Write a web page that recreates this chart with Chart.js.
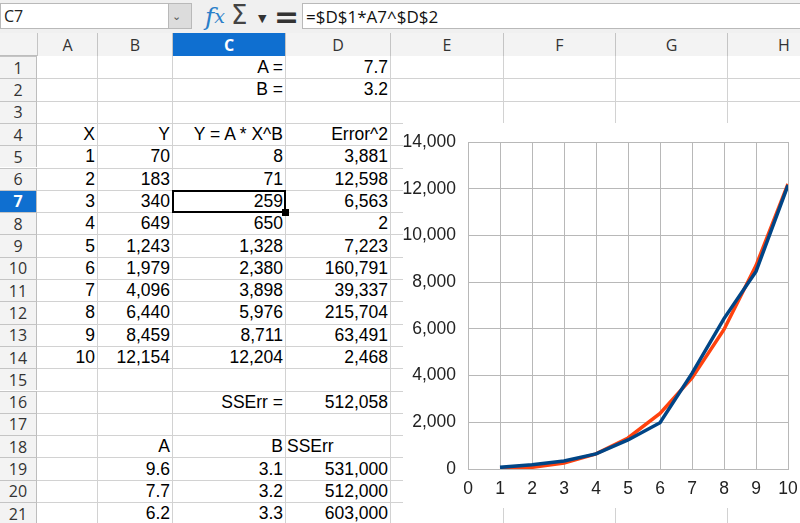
<!DOCTYPE html>
<html><head><meta charset="utf-8">
<script src="https://cdn.jsdelivr.net/npm/chart.js@4/dist/chart.umd.min.js"></script>
<style>
html,body{margin:0;padding:0;width:800px;height:523px;overflow:hidden;background:#fff;font-family:"Liberation Sans",Arial,sans-serif;}
#sheet{position:absolute;left:0;top:0;width:800px;height:523px;}
.abs{position:absolute;box-sizing:border-box;}
.cell{position:absolute;box-sizing:border-box;font-size:17.5px;color:#000;display:flex;align-items:center;white-space:nowrap;padding:0 2px;}
.hdr{position:absolute;box-sizing:border-box;font-family:"Open Sans","DejaVu Sans",sans-serif;font-size:16px;color:#333;display:flex;align-items:center;justify-content:center;background:#f3f3f3;}
#chartwrap{position:absolute;left:403px;top:123px;width:397px;height:385px;background:#fff;}
</style></head>
<body>
<div id="sheet"></div>
<div id="chartwrap"><canvas id="c" width="397" height="385"></canvas></div>
<script>
// ---- data ----
const xValues = [1,2,3,4,5,6,7,8,9,10];
const yValues = [70,183,340,649,1243,1979,4096,6440,8459,12154];
const fitValues = [8,71,259,650,1328,2380,3898,5976,8711,12204];
const errSq = [3881,12598,6563,2,7223,160791,39337,215704,63491,2468];
const paramA = 7.7, paramB = 3.2, ssErr = 512058;
const tableA = [9.6,7.7,6.2];
const tableB = [3.1,3.2,3.3];
const tableSS = [531000,512000,603000];
const xTicks = [0,1,2,3,4,5,6,7,8,9,10];
const yTicks = [0,2000,4000,6000,8000,10000,12000,14000];

// ---- spreadsheet ----
const colNames = ['A','B','C','D','E','F','G','H'];
const colEdges = [37,97,172,285,390,503,615,727,840];
const rowTop0 = 56, rowH = 22.3, nRows = 21, hdrTop = 33;
const sheet = document.getElementById('sheet');
function el(cls, css, html){const d=document.createElement('div');d.className=cls;Object.assign(d.style,css);if(html!==undefined)d.innerHTML=html;sheet.appendChild(d);return d;}
const fmt = v => v.toLocaleString('en-US');
const fmt1 = v => v.toFixed(1);

// toolbar
el('abs',{left:'0px',top:'0px',width:'800px',height:'33px',background:'#f0f0f0'});
el('abs',{left:'0px',top:'3px',width:'192px',height:'26px',background:'#fff',border:'1px solid #b9b9b9'});
el('cell',{left:'2px',top:'3px',height:'26px',fontSize:'16px',fontFamily:'"Open Sans",sans-serif',color:'#222'},'C7');
el('abs',{left:'168px',top:'4px',width:'23px',height:'24px',background:'#dcdcdc',borderLeft:'1px solid #b9b9b9'});
el('cell',{left:'170px',top:'4px',height:'24px',fontSize:'11px',color:'#555',fontFamily:'"DejaVu Sans",sans-serif'},'&#8964;');
el('cell',{left:'203px',top:'0px',height:'32px',fontSize:'25px',color:'#2a7fc9',fontStyle:'italic',fontFamily:'"DejaVu Serif",serif'},'<i>f</i><span style="font-size:19px">x</span>');
el('cell',{left:'229px',top:'0px',height:'30px',fontSize:'26px',color:'#444',fontFamily:'"DejaVu Sans",sans-serif'},'&Sigma;');
el('cell',{left:'256px',top:'3px',height:'30px',fontSize:'11px',color:'#333',fontFamily:'"DejaVu Sans",sans-serif'},'&#9660;');
el('cell',{left:'272px',top:'0px',height:'32px',fontSize:'30px',color:'#333',fontWeight:'bold',fontFamily:'"DejaVu Sans",sans-serif'},'=');
el('abs',{left:'302px',top:'3px',width:'500px',height:'26px',background:'#fff',border:'1px solid #b9b9b9'});
el('cell',{left:'304px',top:'3px',height:'26px',fontSize:'17px',fontFamily:'"Open Sans",sans-serif',color:'#111'},'=$D$1*A7^$D$2');

// column header
el('abs',{left:'0px',top:hdrTop+'px',width:'800px',height:(rowTop0-hdrTop)+'px',background:'#f3f3f3',borderBottom:'1px solid #bdbdbd'});
for(let i=0;i<colNames.length;i++){
  const l=colEdges[i], w=colEdges[i+1]-l, sel=colNames[i]==='C';
  el('hdr',{left:l+'px',top:hdrTop+'px',width:w+'px',height:(rowTop0-hdrTop)+'px',borderLeft:'1px solid #c4c4c4',background:sel?'#0f6fd0':'#f3f3f3',color:sel?'#fff':'#333',fontWeight:sel?'bold':'normal'},colNames[i]);
}
// row headers + grid
for(let r=1;r<=nRows;r++){
  const t=rowTop0+(r-1)*rowH, sel=r===7;
  el('hdr',{left:'0px',top:t+'px',width:'37px',height:rowH+'px',borderTop:'1px solid #c4c4c4',borderRight:'1px solid #bdbdbd',background:sel?'#0f6fd0':'#f3f3f3',color:sel?'#fff':'#333',fontWeight:sel?'bold':'normal'},String(r));
  el('abs',{left:'37px',top:(t+rowH)+'px',width:'770px',height:'1px',background:'#d2d2d2'});
}
for(let i=1;i<colEdges.length;i++){
  el('abs',{left:colEdges[i]+'px',top:rowTop0+'px',width:'1px',height:(523-rowTop0)+'px',background:'#d2d2d2'});
}
// cells
function put(col,row,text,align){
  const ci=colNames.indexOf(col), l=colEdges[ci], w=colEdges[ci+1]-l, t=rowTop0+(row-1)*rowH;
  el('cell',{left:l+'px',top:(t+1)+'px',width:w+'px',height:(rowH-1)+'px',justifyContent:align==='left'?'flex-start':'flex-end'},text);
}
put('C',1,'A ='); put('D',1,fmt1(paramA));
put('C',2,'B ='); put('D',2,fmt1(paramB));
put('A',4,'X'); put('B',4,'Y'); put('C',4,'Y = A * X^B'); put('D',4,'Error^2');
for(let i=0;i<xValues.length;i++){
  put('A',5+i,String(xValues[i])); put('B',5+i,fmt(yValues[i])); put('C',5+i,fmt(fitValues[i])); put('D',5+i,fmt(errSq[i]));
}
put('C',16,'SSErr ='); put('D',16,fmt(ssErr));
put('B',18,'A'); put('C',18,'B'); put('D',18,'SSErr','left');
for(let i=0;i<tableA.length;i++){
  put('B',19+i,fmt1(tableA[i])); put('C',19+i,fmt1(tableB[i])); put('D',19+i,fmt(tableSS[i]));
}
// selection C7
{
  const t=rowTop0+6*rowH;
  el('abs',{left:'172px',top:(t)+'px',width:'114px',height:(rowH+1)+'px',border:'2px solid #000'});
  el('abs',{left:'282px',top:(t+rowH-3)+'px',width:'7px',height:'7px',background:'#000'});
}

// ---- chart ----
const F = {family:'"Liberation Sans", Arial, sans-serif', size:17.5};
new Chart(document.getElementById('c'),{
  type:'line',
  data:{
    datasets:[
      {label:'Y',data:xValues.map((x,i)=>({x:x,y:yValues[i]})),borderColor:'#004586',backgroundColor:'#004586',borderWidth:3.5,pointRadius:0,tension:0,fill:false},
      {label:'Y = A * X^B',data:xValues.map((x,i)=>({x:x,y:fitValues[i]})),borderColor:'#ff420e',backgroundColor:'#ff420e',borderWidth:3.5,pointRadius:0,tension:0,fill:false}
    ]
  },
  options:{
    responsive:false,animation:false,
    layout:{padding:{left:0,right:12,top:19,bottom:0}},
    plugins:{legend:{display:false},tooltip:{enabled:false}},
    scales:{
      x:{type:'linear',min:0,max:10,
        afterBuildTicks:s=>{s.ticks=xTicks.map(v=>({value:v}));},
        afterFit:s=>{s.height=39;s.paddingLeft=0;s.paddingRight=0;},
        ticks:{font:F,color:'#222',padding:10,maxRotation:0,autoSkip:false},
        grid:{color:'#b8b8b8',lineWidth:1,drawTicks:false},
        border:{color:'#b8b8b8'}},
      y:{min:0,max:14000,
        afterBuildTicks:s=>{s.ticks=yTicks.map(v=>({value:v}));},
        afterFit:s=>{s.width=65;s.paddingTop=0;s.paddingBottom=0;},
        ticks:{font:F,color:'#222',padding:12,callback:v=>v.toLocaleString('en-US')},
        grid:{color:'#b8b8b8',lineWidth:1,drawTicks:false},
        border:{color:'#b8b8b8'}}
    }
  }
});
</script>
</body></html>
